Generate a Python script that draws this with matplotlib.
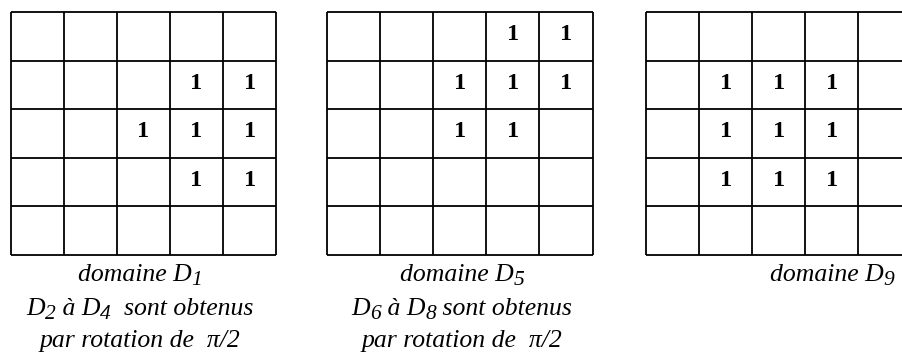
import numpy as np
import matplotlib
matplotlib.use("Agg")
import matplotlib.pyplot as plt

plt.rcParams['font.family'] = ['Liberation Serif', 'DejaVu Serif']

# domain masks (1 = cell marked)
d1 = [[0, 0, 0, 0, 0],
      [0, 0, 0, 1, 1],
      [0, 0, 1, 1, 1],
      [0, 0, 0, 1, 1],
      [0, 0, 0, 0, 0]]
d5 = [[0, 0, 0, 1, 1],
      [0, 0, 1, 1, 1],
      [0, 0, 1, 1, 0],
      [0, 0, 0, 0, 0],
      [0, 0, 0, 0, 0]]
d9 = [[0, 0, 0, 0, 0],
      [0, 1, 1, 1, 0],
      [0, 1, 1, 1, 0],
      [0, 1, 1, 1, 0],
      [0, 0, 0, 0, 0]]
grids = [d1, d5, d9]

# caption lines as runs of (text, is_subscript)
captions = [
    [[("domaine D", 0), ("1", 1)],
     [("D", 0), ("2", 1), (" à D", 0), ("4", 1), ("  sont obtenus", 0)],
     [("par rotation de  π/2", 0)]],
    [[("domaine D", 0), ("5", 1)],
     [("D", 0), ("6", 1), (" à D", 0), ("8", 1), (" sont obtenus", 0)],
     [("par rotation de  π/2", 0)]],
    [[("domaine D", 0), ("9", 1)]],
]

# layout (pixels)
x0s = [10.7, 327, 646]
y0 = 12
cw, ch = 53.1, 48.6
cap_x = [140, 462, 770]
cap_ha = ['center', 'center', 'left']
cap_y = [281, 315, 347]
main_fs, sub_fs, sub_drop = 18.5, 15.5, 4

fig = plt.figure(figsize=(9.02, 3.58), dpi=100)
ax = fig.add_axes([0, 0, 1, 1])
ax.set_xlim(0, 902)
ax.set_ylim(358, 0)
ax.axis('off')
renderer = fig.canvas.get_renderer()


def advance(s, fs):
    # width incl. spaces: measure with a guard glyph appended
    t = ax.text(0, 0, s + '|', fontsize=fs, fontstyle='italic')
    w1 = t.get_window_extent(renderer).width
    t.set_text('|')
    w2 = t.get_window_extent(renderer).width
    t.remove()
    return w1 - w2


def draw_runs(x, y, runs, ha):
    sizes = [sub_fs if sub else main_fs for _, sub in runs]
    widths = [advance(s, fs) for (s, _), fs in zip(runs, sizes)]
    total = sum(widths)
    cx = x - total / 2 if ha == 'center' else x
    for (s, sub), fs, w in zip(runs, sizes, widths):
        ax.text(cx, y + (sub_drop if sub else 0), s, fontsize=fs,
                fontstyle='italic', ha='left', va='baseline')
        cx += w


for g, x0, caps, cx, ha in zip(grids, x0s, captions, cap_x, cap_ha):
    m = np.array(g)
    nr, nc = m.shape
    xs = x0 + cw * np.arange(nc + 1)
    ys = y0 + ch * np.arange(nr + 1)
    ax.vlines(xs, ys[0], ys[-1], color='black', lw=1.3)
    ax.hlines(ys, xs[0], xs[-1], color='black', lw=1.3)
    for r in range(nr):
        for c in range(nc):
            if m[r, c]:
                ax.text(xs[c] + cw / 2, ys[r] + 28, str(m[r, c]),
                        ha='center', va='baseline', fontsize=17.5,
                        fontweight='bold')
    for runs, cy in zip(caps, cap_y):
        draw_runs(cx, cy, runs, ha)

fig.savefig('out.png', dpi=100)
